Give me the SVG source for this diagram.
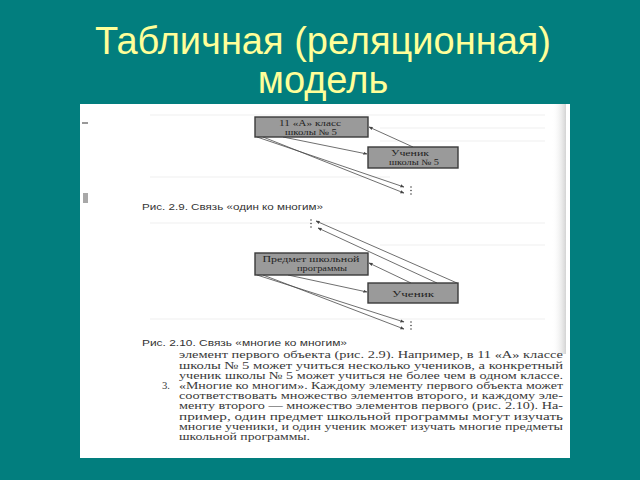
<svg xmlns="http://www.w3.org/2000/svg" width="640" height="480" viewBox="0 0 640 480">
<defs>
<style>
.title{font-family:"Liberation Sans",Arial,sans-serif;font-size:38px;fill:#FFFF99;text-anchor:middle}
.box{fill:#9a9a9a;stroke:#3a3a3a;stroke-width:1.4}
.bt{font-family:"Liberation Serif","Times New Roman",serif;font-size:8px;fill:#222;text-anchor:middle}
.ln{stroke:#4a4a4a;stroke-width:0.8;fill:none}
.cap{font-family:"Liberation Sans",Arial,sans-serif;font-size:9px;fill:#333}
.body{font-family:"Liberation Serif","Times New Roman",serif;font-size:10.6px;fill:#3a3a3a}
.dot{fill:#444}
</style>
<marker id="ar" viewBox="0 0 10 10" refX="9" refY="5" markerWidth="5" markerHeight="5" orient="auto">
<path d="M0,1 L10,5 L0,9 z" fill="#444"/>
</marker>
<linearGradient id="edge" x1="0" y1="0" x2="1" y2="0">
<stop offset="0" stop-color="#ffffff" stop-opacity="0"/>
<stop offset="1" stop-color="#c8c8c8" stop-opacity="0.8"/>
</linearGradient>
</defs>
<rect x="0" y="0" width="640" height="480" fill="#027E7E"/>
<text class="title" x="323" y="54">Табличная (реляционная)</text>
<text class="title" x="323" y="93">модель</text>
<rect x="80" y="104" width="490" height="354" fill="#ffffff"/>
<rect x="552" y="104" width="14" height="250" fill="url(#edge)"/>
<g fill="#f7f7f7">
<rect x="150" y="114" width="395" height="2"/>
<rect x="380" y="127" width="165" height="2"/>
<rect x="380" y="140" width="165" height="2"/>
<rect x="150" y="176" width="240" height="2"/>
<rect x="150" y="222" width="395" height="2"/>
<rect x="380" y="244" width="165" height="2"/>
<rect x="150" y="318" width="395" height="2"/>
</g>
<rect x="82" y="122" width="6" height="2" fill="#999"/>
<rect x="83" y="193" width="5" height="10" fill="#a8a8a8"/>
<g id="connectors">
<line class="ln" x1="257" y1="137" x2="404" y2="187" marker-end="url(#ar)"/>
<line class="ln" x1="263" y1="137" x2="404" y2="193" marker-end="url(#ar)"/>
<line class="ln" x1="283" y1="137" x2="367" y2="154" marker-end="url(#ar)"/>
<line class="ln" x1="413" y1="147" x2="369" y2="127" marker-end="url(#ar)"/>
<line class="ln" x1="457" y1="283" x2="316" y2="221" marker-end="url(#ar)"/>
<line class="ln" x1="437" y1="283" x2="318" y2="228" marker-end="url(#ar)"/>
<line class="ln" x1="411" y1="283" x2="369" y2="263" marker-end="url(#ar)"/>
<line class="ln" x1="288" y1="275" x2="367" y2="292" marker-end="url(#ar)"/>
<line class="ln" x1="257" y1="275" x2="404" y2="322" marker-end="url(#ar)"/>
<line class="ln" x1="263" y1="275" x2="404" y2="329" marker-end="url(#ar)"/>
</g>
<g id="dots1">
<circle class="dot" cx="411" cy="187" r="0.8"/>
<circle class="dot" cx="411" cy="190.5" r="0.8"/>
<circle class="dot" cx="411" cy="194" r="0.8"/>
</g>
<g id="dots2">
<circle class="dot" cx="311" cy="220" r="0.8"/>
<circle class="dot" cx="311" cy="223.5" r="0.8"/>
<circle class="dot" cx="311" cy="227" r="0.8"/>
</g>
<g id="dots3">
<circle class="dot" cx="411" cy="322" r="0.8"/>
<circle class="dot" cx="411" cy="325.5" r="0.8"/>
<circle class="dot" cx="411" cy="329" r="0.8"/>
</g>
<g id="class">
<rect class="box" x="255" y="117" width="113" height="20"/>
<text class="bt" x="310" y="125.5" textLength="62" lengthAdjust="spacingAndGlyphs">11 «А» класс</text>
<text class="bt" x="311" y="134.5" textLength="52" lengthAdjust="spacingAndGlyphs">школы № 5</text>
</g>
<g id="pupil">
<rect class="box" x="368" y="147" width="90" height="21"/>
<text class="bt" x="410" y="155.5" textLength="38" lengthAdjust="spacingAndGlyphs">Ученик</text>
<text class="bt" x="414" y="164.5" textLength="50" lengthAdjust="spacingAndGlyphs">школы № 5</text>
</g>
<text class="cap" x="142" y="210" textLength="181" lengthAdjust="spacingAndGlyphs">Рис. 2.9. Связь «один ко многим»</text>
<g id="subject">
<rect class="box" x="255" y="253" width="113" height="22"/>
<text class="bt" x="311" y="261.5" font-size="8.5" textLength="97" lengthAdjust="spacingAndGlyphs">Предмет школьной</text>
<text class="bt" x="322" y="271" font-size="8.5" textLength="50" lengthAdjust="spacingAndGlyphs">программы</text>
</g>
<g id="student">
<rect class="box" x="368" y="283" width="90" height="20"/>
<text class="bt" x="413" y="296.5" font-size="10" textLength="42" lengthAdjust="spacingAndGlyphs">Ученик</text>
</g>
<text class="cap" x="142" y="346" textLength="205" lengthAdjust="spacingAndGlyphs">Рис. 2.10. Связь «многие ко многим»</text>
<g class="body">
<text x="179" y="358" textLength="384" lengthAdjust="spacingAndGlyphs">элемент первого объекта (рис. 2.9). Например, в 11 «А» классе</text>
<text x="179" y="368.5" textLength="384" lengthAdjust="spacingAndGlyphs">школы № 5 может учиться несколько учеников, а конкретный</text>
<text x="179" y="378.5" textLength="384" lengthAdjust="spacingAndGlyphs">ученик школы № 5 может учиться не более чем в одном классе.</text>
<text x="162" y="388.5">3.</text>
<text x="179" y="388.5" textLength="384" lengthAdjust="spacingAndGlyphs">«Многие ко многим». Каждому элементу первого объекта может</text>
<text x="179" y="399" textLength="384" lengthAdjust="spacingAndGlyphs">соответствовать множество элементов второго, и каждому эле-</text>
<text x="179" y="409" textLength="384" lengthAdjust="spacingAndGlyphs">менту второго — множество элементов первого (рис. 2.10). На-</text>
<text x="179" y="419.5" textLength="384" lengthAdjust="spacingAndGlyphs">пример, один предмет школьной программы могут изучать</text>
<text x="179" y="429.5" textLength="384" lengthAdjust="spacingAndGlyphs">многие ученики, и один ученик может изучать многие предметы</text>
<text x="179" y="440" textLength="131" lengthAdjust="spacingAndGlyphs">школьной программы.</text>
</g>
</svg>
